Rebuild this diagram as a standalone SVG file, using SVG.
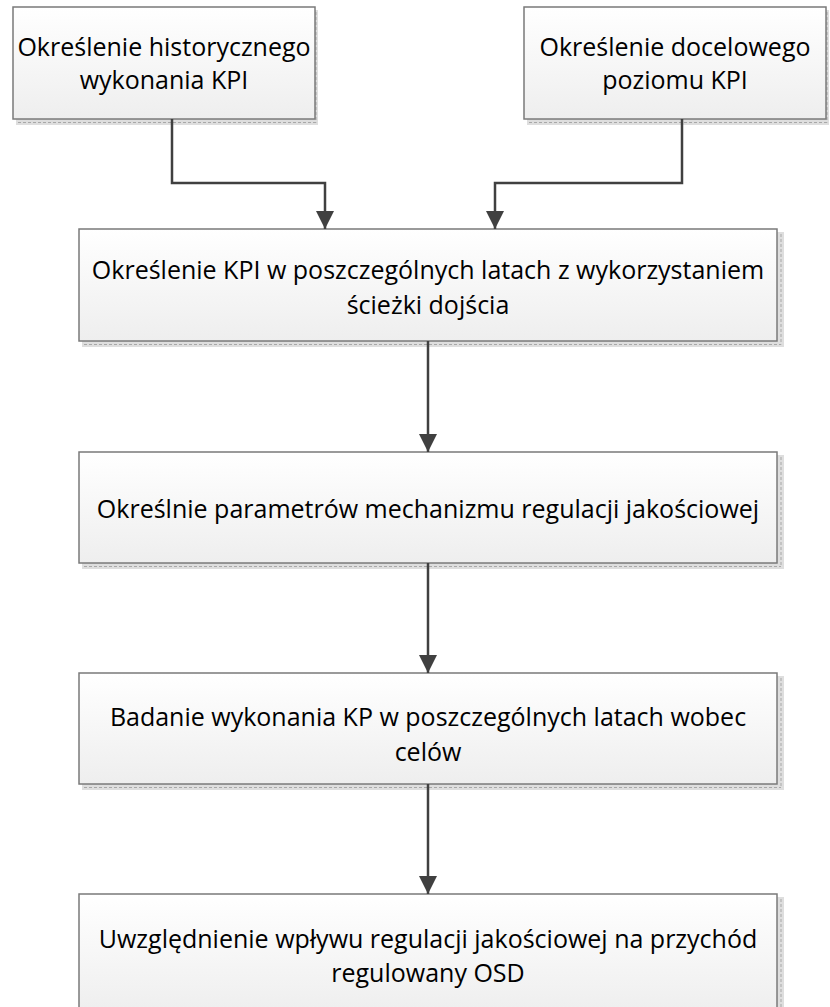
<svg xmlns="http://www.w3.org/2000/svg" width="830" height="1007" viewBox="0 0 830 1007">
  <defs>
    <linearGradient id="boxFill" x1="0" y1="0" x2="0" y2="1">
      <stop offset="0" stop-color="#ffffff"/>
      <stop offset="1" stop-color="#eeeeee"/>
    </linearGradient>
    <marker id="arrow" markerUnits="userSpaceOnUse" markerWidth="18" markerHeight="18" refX="18" refY="9" orient="auto">
      <path d="M0,0 L18,9 L0,18 z" fill="#404040"/>
    </marker>
  </defs>
  <style>
    .shadow { fill: #dedede; }
    .shadow-line { fill: none; stroke: #a8a8a8; stroke-width: 1; stroke-dasharray: 3 2; }
    .box { fill: url(#boxFill); stroke: #7a7a7a; stroke-width: 1.5; }
    .label { font-family: "Open Sans", "Liberation Sans", Arial, sans-serif; font-size: 25px; fill: #000000; text-anchor: middle; }
    .conn { fill: none; stroke: #404040; stroke-width: 2.5; marker-end: url(#arrow); }
  </style>

  <rect width="830" height="1007" fill="#ffffff"/>

  <!-- top left: historical KPI -->
  <g id="node-historyczne">
    <rect class="shadow" x="16" y="10" width="302" height="115"/>
    <path class="shadow-line" d="M18,122.5 H316 M316,12 V122.5"/>
    <rect class="box" x="13" y="7" width="302" height="112"/>
    <text class="label" x="164" y="56">Określenie historycznego</text>
    <text class="label" x="164" y="89">wykonania KPI</text>
  </g>

  <!-- top right: target KPI -->
  <g id="node-docelowy">
    <rect class="shadow" x="527" y="10" width="302" height="115"/>
    <path class="shadow-line" d="M529,122.5 H827 M827,12 V122.5"/>
    <rect class="box" x="524" y="7" width="302" height="112"/>
    <text class="label" x="675" y="56">Określenie docelowego</text>
    <text class="label" x="675" y="89">poziomu KPI</text>
  </g>

  <g id="node-sciezka">
    <rect class="shadow" x="82" y="232" width="702" height="115"/>
    <path class="shadow-line" d="M84,344.5 H781 M781,234 V344.5"/>
    <rect class="box" x="79" y="229" width="698" height="112"/>
    <text class="label" x="428" y="279">Określenie KPI w poszczególnych latach z wykorzystaniem</text>
    <text class="label" x="428" y="314">ścieżki dojścia</text>
  </g>

  <g id="node-parametry">
    <rect class="shadow" x="82" y="455" width="702" height="114"/>
    <path class="shadow-line" d="M84,566.5 H781 M781,457 V566.5"/>
    <rect class="box" x="79" y="452" width="698" height="111"/>
    <text class="label" x="428" y="518">Określnie parametrów mechanizmu regulacji jakościowej</text>
  </g>

  <g id="node-badanie">
    <rect class="shadow" x="82" y="676" width="702" height="114"/>
    <path class="shadow-line" d="M84,787.5 H781 M781,678 V787.5"/>
    <rect class="box" x="79" y="673" width="698" height="111"/>
    <text class="label" x="428" y="726">Badanie wykonania KP w poszczególnych latach wobec</text>
    <text class="label" x="428" y="761">celów</text>
  </g>

  <g id="node-przychod">
    <rect class="shadow" x="82" y="897" width="702" height="114"/>
    <path class="shadow-line" d="M781,899 V1010"/>
    <rect class="box" x="79" y="894" width="698" height="120"/>
    <text class="label" x="428" y="948">Uwzględnienie wpływu regulacji jakościowej na przychód</text>
    <text class="label" x="428" y="982">regulowany OSD</text>
  </g>

  <g id="connectors">
    <path class="conn" d="M172,119 V183 H325 V229"/>
    <path class="conn" d="M682,119 V183 H495 V229"/>
    <path class="conn" d="M428,341 V452"/>
    <path class="conn" d="M428,563 V673"/>
    <path class="conn" d="M428,784 V894"/>
  </g>
</svg>
